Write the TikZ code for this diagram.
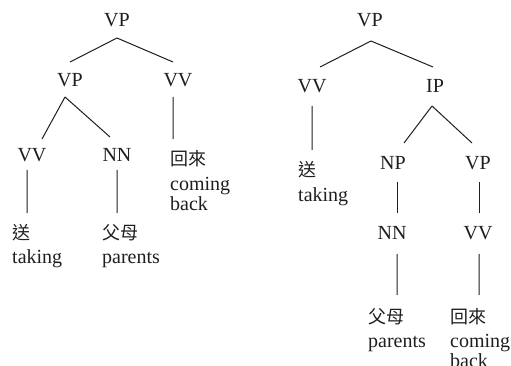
\documentclass[tikz,border=0pt]{standalone}
\usepackage{fontspec}
\setmainfont{Liberation Serif}
\newfontfamily\cjk{Noto Sans CJK TC}
\usetikzlibrary{calc}
\definecolor{ink}{HTML}{1E1E1E}
\tikzset{
  lab/.style={inner sep=0pt, text=ink, font=\fontsize{20}{24}\selectfont},
  cjkleaf/.style={inner sep=0pt, anchor=west, text=ink, font=\cjk\fontsize{18}{20}\selectfont},
  engleaf/.style={inner sep=0pt, anchor=base west, text=ink, font=\fontsize{20}{24}\selectfont},
  edge/.style={draw=ink, line width=1pt}
}
\begin{document}
\begin{tikzpicture}[x=1pt,y=-1pt]
\useasboundingbox (0,0) rectangle (511,366);
% ---------- left tree ----------
\node[lab] (vp1) at (117,20) {VP};
\node[lab] (vp2) at (70,80) {VP};
\node[lab] (vv1) at (178,80) {VV};
\node[lab] (vv2) at (32,155) {VV};
\node[lab] (nn1) at (117,155) {NN};
\node[cjkleaf] (c1) at (12,233) {送};
\node[engleaf] (e1) at (12,263) {taking};
\node[cjkleaf] (c2) at (102,233) {父母};
\node[engleaf] (e2) at (102,263) {parents};
\node[cjkleaf] (c3) at (170,159) {回來};
\node[engleaf] (e3) at (170,190) {coming};
\node[engleaf] (e3b) at (170,211) {back};
\draw[edge] ($(vp1)+(0,18)$) -- ($(vp2)+(0,-18)$);
\draw[edge] ($(vp1)+(0,18)$) -- ($(vv1)+(-5,-18)$);
\draw[edge] ($(vp2)+(-5,17)$) -- ($(vv2)+(10,-16)$);
\draw[edge] ($(vp2)+(-5,17)$) -- ($(nn1)+(-7,-18)$);
\draw[edge] ($(vv1)+(-5,17)$) -- ($(c3)+(-15,-20)$);
\draw[edge] ($(vv2)+(-5,15)$) -- ($(c1)+(6,-20)$);
\draw[edge] ($(nn1)+(0,15)$) -- ($(c2)+(-3,-20)$);
% ---------- right tree ----------
\node[lab] (vp3) at (370,20) {VP};
\node[lab] (vv3) at (312,86) {VV};
\node[lab] (ip) at (435,86) {IP};
\node[lab] (np) at (393,163) {NP};
\node[lab] (vp4) at (478,163) {VP};
\node[lab] (nn2) at (392,233) {NN};
\node[lab] (vv4) at (478,233) {VV};
\node[cjkleaf] (c4) at (298,170) {送};
\node[engleaf] (e4) at (298,201) {taking};
\node[cjkleaf] (c5) at (368,317) {父母};
\node[engleaf] (e5) at (368,347) {parents};
\node[cjkleaf] (c6) at (450,317) {回來};
\node[engleaf] (e6) at (450,347) {coming};
\node[engleaf] (e6b) at (450,367) {back};
\draw[edge] ($(vp3)+(1,21)$) -- ($(vv3)+(8,-19)$);
\draw[edge] ($(vp3)+(1,21)$) -- ($(ip)+(-2,-19)$);
\draw[edge] ($(vv3)+(0,20)$) -- ($(c4)+(5,-20)$);
\draw[edge] ($(ip)+(-3,20)$) -- ($(np)+(11,-20)$);
\draw[edge] ($(ip)+(-3,20)$) -- ($(vp4)+(-6,-20)$);
\draw[edge] ($(np)+(4,19)$) -- ($(nn2)+(5,-20)$);
\draw[edge] ($(vp4)+(1,19)$) -- ($(vv4)+(1,-20)$);
\draw[edge] ($(nn2)+(5,21)$) -- ($(c5)+(11,-22)$);
\draw[edge] ($(vv4)+(1,21)$) -- ($(c6)+(11,-22)$);
\end{tikzpicture}
\end{document}
